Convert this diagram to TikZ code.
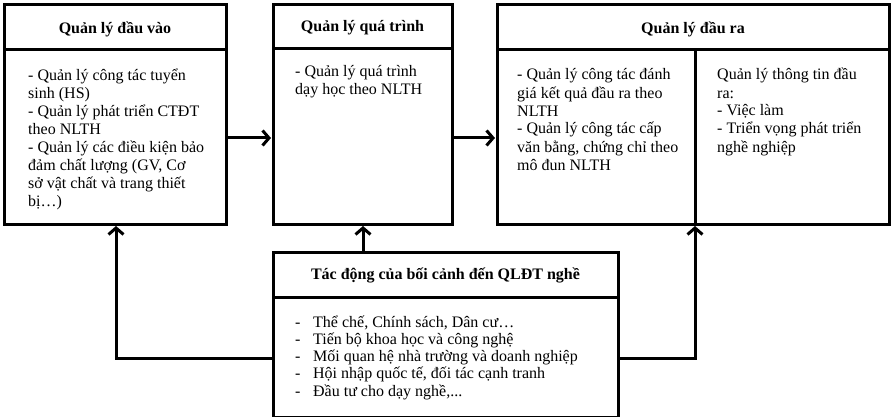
\documentclass[tikz,border=0pt]{standalone}
\usepackage{fontspec}
\setmainfont{Liberation Serif}
\usetikzlibrary{arrows.meta}
\begin{document}
\begin{tikzpicture}[x=1pt,y=-1pt,
  boxline/.style={line width=3pt},
  conn/.style={line width=3pt,-{Straight Barb[length=6.5pt,width=15pt,line width=3pt]}},
  ttl/.style={font=\fontsize{16}{18}\selectfont\bfseries,inner sep=0pt},
  body/.style={font=\fontsize{16}{18}\selectfont,align=left,inner sep=0pt,anchor=base west},
  bodyb/.style={font=\fontsize{16}{17.2}\selectfont,align=left,inner sep=0pt,anchor=base west}]
\useasboundingbox (0,0) rectangle (891,417);
% box 1
\draw[boxline] (4,5) rectangle (226,224);
\draw[boxline] (4,50) -- (226,50);
\node[ttl] (t1) at (115,29) {Quản lý đầu vào};
\node[body] (x1) at (28,206) {- Quản lý công tác tuyển\\sinh (HS)\\- Quản lý phát triển CTĐT\\theo NLTH\\- Quản lý các điều kiện bảo\\đảm chất lượng (GV, Cơ\\sở vật chất và trang thiết\\bị…)};
% box 2
\draw[boxline] (273,5) rectangle (452,224);
\draw[boxline] (273,49) -- (452,49);
\node[ttl] (t2) at (362.5,28) {Quản lý quá trình};
\node[body] (x2) at (295,95) {- Quản lý quá trình\\dạy học theo NLTH};
% box 3
\draw[boxline] (497,5) rectangle (889,224);
\draw[boxline] (497,50) -- (889,50);
\draw[boxline] (695,50) -- (695,224);
\node[ttl] (t3) at (693,29) {Quản lý đầu ra};
\node[body] (x3a) at (517,170) {- Quản lý công tác đánh\\giá kết quả đầu ra theo\\NLTH\\- Quản lý công tác cấp\\văn bằng, chứng chỉ theo\\mô đun NLTH};
\node[body] (x3b) at (717,152) {Quản lý thông tin đầu\\ra:\\- Việc làm\\- Triển vọng phát triển\\nghề nghiệp};
% bottom box
\draw[boxline] (273,252) rectangle (618,417);
\draw[boxline] (273,297) -- (618,297);
\node[ttl] (t4) at (445.5,275) {Tác động của bối cảnh đến QLĐT nghề};
\node[bodyb] (x4) at (295,396) {\makebox[18pt][l]{-}Thể chế, Chính sách, Dân cư…\\\makebox[18pt][l]{-}Tiến bộ khoa học và công nghệ\\\makebox[18pt][l]{-}Mối quan hệ nhà trường và doanh nghiệp\\\makebox[18pt][l]{-}Hội nhập quốc tế, đối tác cạnh tranh\\\makebox[18pt][l]{-}Đầu tư cho dạy nghề,...};
% connectors
\coordinate (l1) at (273,358);
\coordinate (lc) at (116,358);
\coordinate (l2) at (116,226);
\coordinate (r1) at (618,358);
\coordinate (rc) at (695,358);
\coordinate (r2) at (695,226);
\coordinate (m1) at (363,252);
\coordinate (m2) at (363,226);
\coordinate (a1) at (228,138);
\coordinate (a2) at (271,138);
\coordinate (c1) at (454,138);
\coordinate (c2) at (495,138);
\draw[conn] (a1) -- (a2);
\draw[conn] (c1) -- (c2);
\draw[conn] (l1) -- (lc) -- (l2);
\draw[conn] (r1) -- (rc) -- (r2);
\draw[conn] (m1) -- (m2);
\end{tikzpicture}
\end{document}
